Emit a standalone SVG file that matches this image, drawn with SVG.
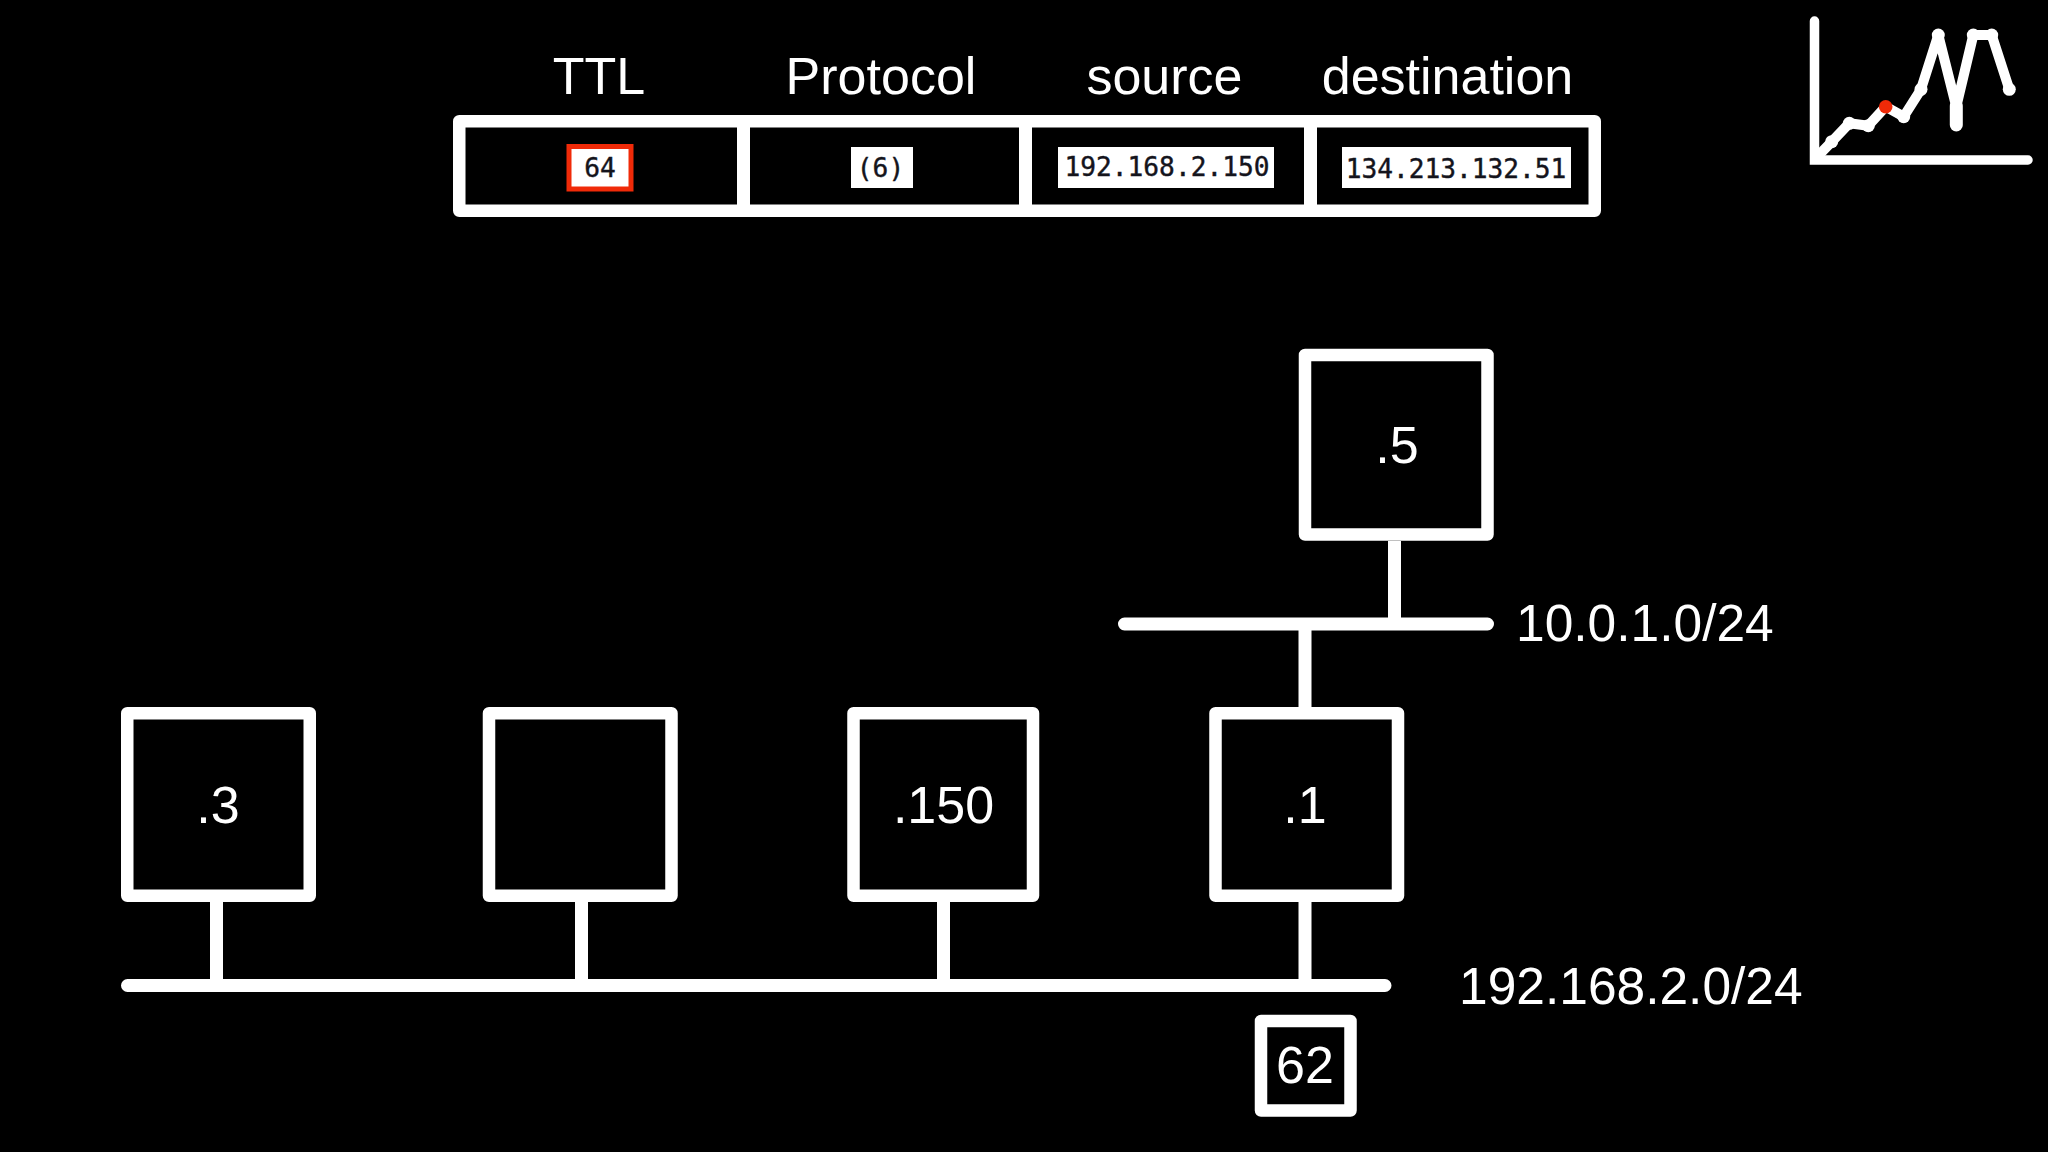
<svg xmlns="http://www.w3.org/2000/svg" width="2048" height="1152" viewBox="0 0 2048 1152">
<style>
text{font-family:"Liberation Sans",Arial,sans-serif;font-size:52px;fill:#fff}
.m{text-anchor:middle}
.lab{font-size:51.500px}
.mono{font-family:"DejaVu Sans Mono","Liberation Mono",monospace;font-size:26.200px;fill:#14141c;stroke:#14141c;stroke-width:.4px;text-anchor:middle}
.box{fill:#000;stroke:#fff;stroke-width:12.5;stroke-linejoin:round}
.wire{stroke:#fff;stroke-width:13;fill:none}
.bus{stroke:#fff;stroke-width:13;stroke-linecap:round;fill:none}
.pl{stroke:#fff;stroke-width:10;fill:none;stroke-linejoin:round;stroke-linecap:round}
.dot{fill:#fff}
</style>
<rect width="2048" height="1152" fill="#000"/>
<g id="header">
<text class="m" x="599" y="94">TTL</text>
<text class="m" x="881" y="94">Protocol</text>
<text class="m" x="1164.500" y="94">source</text>
<text class="m" x="1447.500" y="94">destination</text>
<rect class="box" x="459.25" y="121.25" width="1135.5" height="89.5"/>
<path class="wire" d="M743.5 121V211M1025.5 121V211M1310.5 121V211"/>
<rect x="569" y="146.500" width="62" height="42.500" fill="#fff" stroke="#f02a08" stroke-width="5"/>
<text class="mono" x="600" y="177">64</text>
<rect x="851" y="147" width="62" height="41" fill="#fff"/>
<text class="mono" x="880.500" y="177">(6)</text>
<rect x="1058" y="147" width="216" height="41" fill="#fff"/>
<text class="mono" x="1167" y="175.500">192.168.2.150</text>
<rect x="1342" y="147" width="229" height="41" fill="#fff"/>
<text class="mono" x="1456" y="177.500">134.213.132.51</text>
</g>
<g id="connectors">
<path class="bus" d="M127.500 985.500H1385M1124.500 624H1487.500"/>
<path class="wire" d="M216.500 902V985M581.500 902V985M943.500 902V985M1305 902V985M1305 624V707M1394.500 541V624"/>
</g>
<g id="node-5"><rect class="box" x="1305" y="355" width="182.500" height="179.500"/><text class="m" x="1397" y="463">.5</text></g>
<g id="node-3"><rect class="box" x="127.250" y="713.250" width="182.500" height="182.500"/><text class="m" x="218" y="823">.3</text></g>
<g id="node-blank"><rect class="box" x="489" y="713.250" width="182.500" height="182.500"/></g>
<g id="node-150"><rect class="box" x="853.500" y="713.250" width="179.500" height="182.500"/><text class="m" x="943.500" y="823">.150</text></g>
<g id="node-1"><rect class="box" x="1215.500" y="713.250" width="182.500" height="182.500"/><text class="m" x="1305" y="823">.1</text></g>
<g id="node-62"><rect class="box" x="1261" y="1021" width="89.500" height="89.500"/><text class="m" x="1305" y="1083">62</text></g>
<g id="labels">
<text class="lab" x="1516" y="641">10.0.1.0/24</text>
<text class="lab" x="1459" y="1004">192.168.2.0/24</text>
</g>
<g id="chart">
<path class="wire" style="stroke-width:9.500;stroke-linecap:round" d="M1814.500 21V160H2028"/>
<path class="pl" d="M1816 158L1831.700 141.700L1849.300 123.300L1868.300 125.700L1885.700 106.700L1903.700 116.700L1921 89.300L1938.300 35L1956.300 106.700L1973.300 35H1991.700L2009.300 89.300"/>
<path d="M1956.300 106V125" stroke="#fff" stroke-width="13" stroke-linecap="round"/>
<g class="dot">
<circle cx="1831.700" cy="141.700" r="6.500"/><circle cx="1849.300" cy="123.300" r="6.500"/><circle cx="1868.300" cy="125.700" r="6.500"/><circle cx="1903.700" cy="116.700" r="6.500"/><circle cx="1921" cy="89.300" r="6.500"/><circle cx="1938.300" cy="35" r="6.500"/><circle cx="1973.300" cy="35" r="6.500"/><circle cx="1991.700" cy="35" r="6.500"/><circle cx="2009.300" cy="89.300" r="6.500"/>
</g>
<circle cx="1885.700" cy="106.700" r="6.800" fill="#f02a08"/>
</g>
</svg>
